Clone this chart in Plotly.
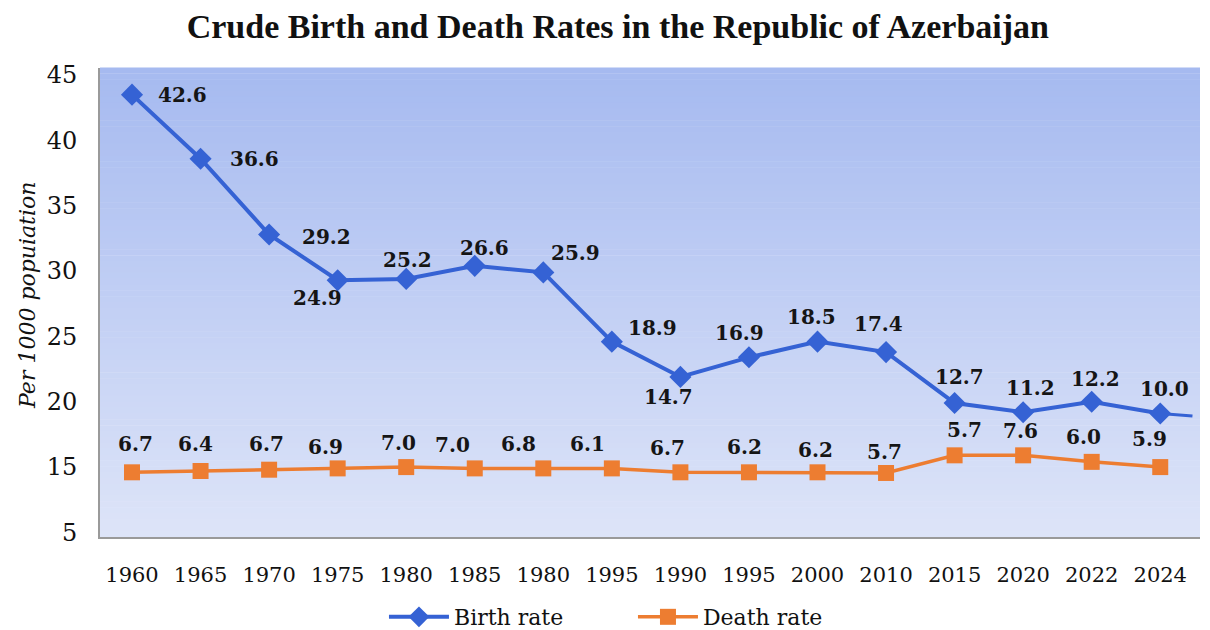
import plotly.graph_objects as go

# ---------------- data ----------------
years = ["1960", "1965", "1970", "1975", "1980", "1985", "1980", "1995",
         "1990", "1995", "2000", "2010", "2015", "2020", "2022", "2024"]

# plotted heights of the markers (as drawn on the axis)
birth_pos = [43.5, 38.6, 32.8, 29.3, 29.4, 30.4, 29.9, 24.6,
             21.9, 23.4, 24.6, 23.8, 19.9, 19.2, 20.0, 19.1]
birth_labels = ["42.6", "36.6", "29.2", "24.9", "25.2", "26.6", "25.9", "18.9",
                "14.7", "16.9", "18.5", "17.4", "12.7", "11.2", "12.2", "10.0"]
birth_tail = 18.9  # line continues past the last marker

death_pos = [14.6, 14.7, 14.8, 14.9, 15.0, 14.9, 14.9, 14.9,
             14.6, 14.6, 14.6, 14.55, 15.9, 15.9, 15.4, 15.0]
death_labels = ["6.7", "6.4", "6.7", "6.9", "7.0", "7.0", "6.8", "6.1",
                "6.7", "6.2", "6.2", "5.7", "5.7", "7.6", "6.0", "5.9"]

y_tick_vals = [10, 15, 20, 25, 30, 35, 40, 45]
y_tick_text = ["5", "15", "20", "25", "30", "35", "40", "45"]

# ---------------- styling ----------------
BLUE = "#3562D4"
ORANGE = "#ED7D31"
SERIF = "DejaVu Serif"

# label offsets in pixels (x right, y up) relative to each marker
birth_dx = [50, 54, 57, -20, 1, 10, 32, 41, -12, -9, -6, -8, 5, 7, 4, 4]
birth_dy = [0, 0, -3, -18, 19, 18, 19, 14, -20, 24, 25, 28, 26, 24, 23, 25]
death_dx = [3, -5, -3, -12, -8, -22, -25, -24, -13, -4, -2, -2, 10, -3, -8, -11]
death_dy = [28, 27, 26, 21, 24, 23, 24, 24, 24, 25, 22, 21, 25, 24, 25, 28]

idx = list(range(len(years)))

fig = go.Figure()

fig.add_trace(go.Scatter(
    x=[idx[-1], idx[-1] + 0.47], y=[birth_pos[-1], birth_tail],
    mode="lines", line=dict(color=BLUE, width=3), showlegend=False,
    hoverinfo="skip"))

fig.add_trace(go.Scatter(
    x=idx, y=birth_pos, name="Birth rate", mode="lines+markers",
    line=dict(color=BLUE, width=4),
    marker=dict(symbol="diamond", size=17, color=BLUE)))

fig.add_trace(go.Scatter(
    x=idx, y=death_pos, name="Death rate", mode="lines+markers",
    line=dict(color=ORANGE, width=3.5),
    marker=dict(symbol="square", size=16, color=ORANGE)))

label_font = dict(family=SERIF, size=20, color="#151515", weight="bold")
annotations = []
for i, lab in enumerate(birth_labels):
    annotations.append(dict(x=idx[i], y=birth_pos[i], text=lab, showarrow=False,
                            xshift=birth_dx[i], yshift=birth_dy[i],
                            xanchor="center", yanchor="middle", font=label_font))
for i, lab in enumerate(death_labels):
    annotations.append(dict(x=idx[i], y=death_pos[i], text=lab, showarrow=False,
                            xshift=death_dx[i], yshift=death_dy[i],
                            xanchor="center", yanchor="middle", font=label_font))
annotations.append(dict(text="Per 1000 popuiation", textangle=-90,
                        xref="paper", yref="paper", x=-0.0655, y=0.516,
                        xanchor="center", yanchor="middle", showarrow=False,
                        font=dict(family=SERIF, size=22, color="#111",
                                  style="italic")))

# gradient background
n = 80
top = (166, 186, 240)
bot = (221, 228, 248)
shapes = []
for i in range(n):
    t = i / (n - 1)
    c = tuple(round(top[k] + (bot[k] - top[k]) * t) for k in range(3))
    shapes.append(dict(type="rect", xref="paper", yref="paper",
                       x0=0, x1=1, y0=1 - (i + 1) / n, y1=1 - i / n + 0.001,
                       fillcolor="rgb(%d,%d,%d)" % c, line=dict(width=0),
                       layer="below"))

fig.update_layout(
    width=1210, height=630,
    margin=dict(l=92, r=18, t=60, b=101),
    paper_bgcolor="white", plot_bgcolor="rgba(0,0,0,0)",
    shapes=shapes, annotations=annotations,
    title=dict(text="<b>Crude Birth and Death Rates in the Republic of Azerbaijan</b>",
               x=0.504, xanchor="center", y=1.0, yanchor="top",
               pad=dict(t=6),
               font=dict(family="Liberation Serif", size=34, color="#111")),
    xaxis=dict(range=[-0.467, 15.58], tickmode="array", tickvals=idx,
               ticktext=years, showgrid=False, zeroline=False, automargin=False,
               showline=True, linecolor="#9a9a9a", linewidth=2,
               ticks="", ticklabelstandoff=18,
               tickfont=dict(family=SERIF, size=21, color="#111")),
    yaxis=dict(range=[9.65, 45.54], tickmode="array", tickvals=y_tick_vals,
               ticktext=y_tick_text, showgrid=False, zeroline=False, automargin=False,
               showline=True, linecolor="#9a9a9a", linewidth=2,
               ticks="", ticklabelstandoff=16,
               tickfont=dict(family=SERIF, size=24, color="#111")),
    legend=dict(orientation="h", xref="container", yref="container",
                x=0.5165, xanchor="center", y=0.0333, yanchor="middle",
                font=dict(family=SERIF, size=22, color="#111"),
                bgcolor="rgba(0,0,0,0)", itemwidth=60, traceorder="normal",
                entrywidth=174, entrywidthmode="pixels"),
)

fig.write_html("out.html")
